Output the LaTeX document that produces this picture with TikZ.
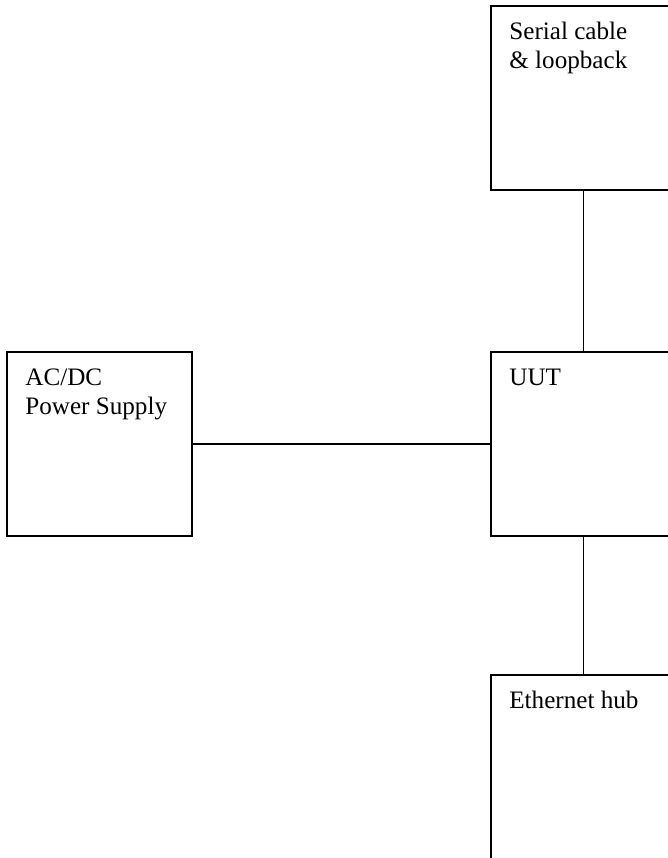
\documentclass[tikz,border=0pt]{standalone}
\usepackage{fontspec}
\setmainfont{Liberation Serif}
\usetikzlibrary{positioning}

\newcommand{\topgap}{\rule{0pt}{0.69cm}}

\begin{document}
\begin{tikzpicture}[
        box/.style={rectangle, draw=black, line width=1.1pt, fill=none,
            minimum width=3.7cm, minimum height=3.68cm, inner sep=0pt},
        lbl/.style={anchor=north west, inner sep=0pt, align=left,
            font=\fontsize{14.3pt}{16.2pt}\selectfont},
        link/.style={line width=1.1pt, draw=black}
    ]
    \useasboundingbox (0,0) rectangle (13.36,-17.16);

    \node[box] (serial) at (11.67,-1.96) {};
    \node[box] (uut) at (11.67,-8.88) {};
    \node[box] (hub) at (11.67,-15.34) {};
    \node[box] (power) at (1.99,-8.88) {};

    % labels in the upper left corners
    \node[lbl] (serialtxt) at ([xshift=0.38cm]serial.north west) {\topgap Serial cable\\\& loopback};
    \node[lbl] (uuttxt) at ([xshift=0.38cm]uut.north west) {\topgap UUT};
    \node[lbl] (hubtxt) at ([xshift=0.38cm]hub.north west) {\topgap Ethernet hub};
    \node[lbl] (powertxt) at ([xshift=0.38cm]power.north west) {\topgap AC/DC\\Power Supply};

    \draw[link] (serial) -- (uut);
    \draw[link] (uut) -- (hub);
    \draw[link] (power) -- (uut);
\end{tikzpicture}
\end{document}
